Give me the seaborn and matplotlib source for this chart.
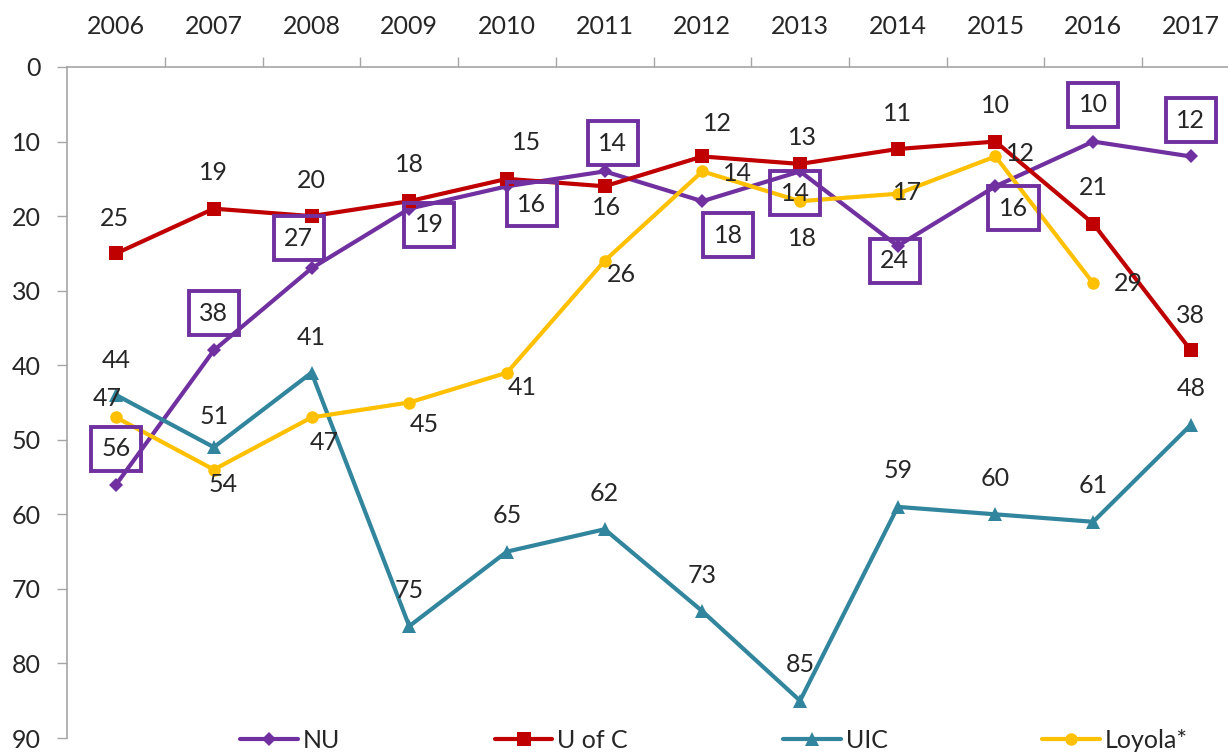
import pandas as pd
import seaborn as sns
import matplotlib.pyplot as plt
from matplotlib.ticker import FixedLocator

# data (rank, lower is better)
years = ["2006", "2007", "2008", "2009", "2010", "2011",
         "2012", "2013", "2014", "2015", "2016", "2017"]
nu = [56, 38, 27, 19, 16, 14, 18, 14, 24, 16, 10, 12]
uofc = [25, 19, 20, 18, 15, 16, 12, 13, 11, 10, 21, 38]
uic = [44, 51, 41, 75, 65, 62, 73, 85, 59, 60, 61, 48]
loyola = [47, 54, 47, 45, 41, 26, 14, 18, 17, 12, 29]  # no 2017 value

# label offsets in pixels (dx, dy with dy downward)
nu_off = [(0, -36), (0, -37), (-13, -30), (20, 16), (25, 18), (8, -28),
          (26, 34), (-5, 22), (-3, 15), (18, 22), (0, -37), (0, -36)]
uofc_off = [(-2, -35), (0, -36), (0, -36), (0, -37), (20, -36), (2, 21),
            (15, -33), (2, -26), (0, -36), (0, -36), (0, -36), (0, -35)]
uic_off = [(0, -35), (0, -31), (0, -35)] + [(0, -36)] * 9
loyola_off = [(-9, -19), (9, 15), (13, 25), (15, 22), (15, 15), (17, 14),
              (35, 2), (2, 37), (10, -1), (25, -3), (35, 0)]

sns.set_style("white")
plt.rcParams['font.family'] = ['Lato', 'DejaVu Sans']

fig = plt.figure(figsize=(12.28, 7.54), dpi=100)
ax = fig.add_axes([67.3 / 1228, 1 - 738 / 754, (1239.7 - 67.3) / 1228, (738 - 67) / 754])

series = [
    ("NU", nu, "#7030A0", "D", 7),
    ("U of C", uofc, "#C00000", "s", 10),
    ("UIC", uic, "#31859C", "^", 10),
    ("Loyola*", loyola, "#FFC000", "o", 9),
]
for name, vals, col, mk, ms in series:
    df = pd.DataFrame({"x": range(len(vals)), "rank": vals})
    sns.lineplot(data=df, x="x", y="rank", ax=ax, color=col, marker=mk,
                 markersize=ms, markeredgewidth=0, linewidth=3, label=name)

fs = 18
for i, v in enumerate(uofc):
    dx, dy = uofc_off[i]
    ax.annotate(str(v), (i, v), xytext=(dx, -dy), textcoords="offset pixels",
                ha="center", va="center", fontsize=fs, annotation_clip=False)
for i, v in enumerate(uic):
    dx, dy = uic_off[i]
    ax.annotate(str(v), (i, v), xytext=(dx, -dy), textcoords="offset pixels",
                ha="center", va="center", fontsize=fs, annotation_clip=False)
for i, v in enumerate(loyola):
    dx, dy = loyola_off[i]
    ax.annotate(str(v), (i, v), xytext=(dx, -dy), textcoords="offset pixels",
                ha="center", va="center", fontsize=fs, annotation_clip=False)
for i, v in enumerate(nu):
    dx, dy = nu_off[i]
    ax.annotate(str(v), (i, v), xytext=(dx, -dy), textcoords="offset pixels",
                ha="center", va="center", fontsize=fs, annotation_clip=False,
                bbox=dict(boxstyle="square,pad=0.42", fc="none",
                          ec="#7030A0", lw=2.8))

ax.set_xlim(-0.5, 11.5)
ax.set_ylim(90, 0)
ax.set_xlabel("")
ax.set_ylabel("")

ax.xaxis.tick_top()
ax.set_xticks(range(len(years)))
ax.set_xticklabels(years, fontsize=fs)
ax.xaxis.set_minor_locator(FixedLocator([k + 0.5 for k in range(11)]))
ax.tick_params(axis="x", which="major", length=0, pad=21)
ax.tick_params(axis="x", which="minor", length=7.2, width=1, color="#A6A6A6",
               direction="out", top=True, bottom=False)
ax.set_yticks(range(0, 91, 10))
ax.tick_params(axis="y", labelsize=fs, length=7.2, width=1, color="#A6A6A6",
               pad=12, left=True, direction="out")

for s in ["bottom", "right"]:
    ax.spines[s].set_visible(False)
for s in ["top", "left"]:
    ax.spines[s].set_color("#A6A6A6")
    ax.spines[s].set_linewidth(1.2)

ax.legend(loc="center left", bbox_to_anchor=(240 / 1228, 1 - 740 / 754),
          bbox_transform=fig.transFigure, ncol=4, frameon=False, fontsize=fs,
          borderpad=0, borderaxespad=0, handlelength=2.3, handletextpad=0.2,
          columnspacing=6.2)

fig.savefig("out.png", dpi=100)
